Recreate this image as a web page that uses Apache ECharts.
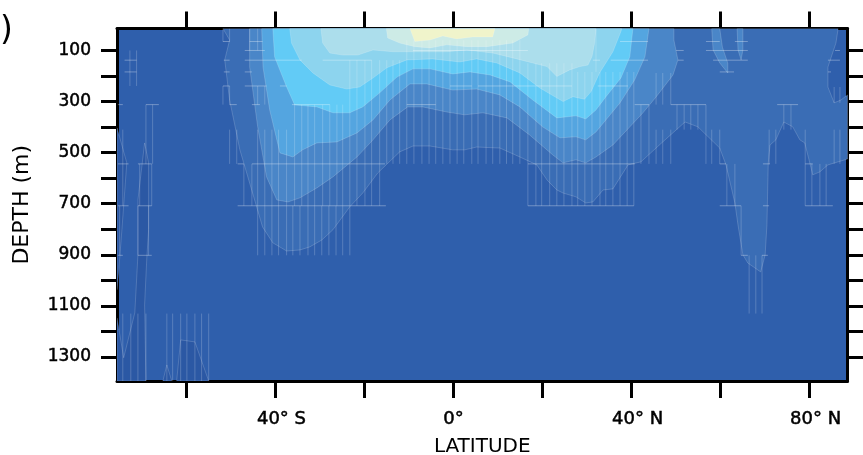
<!DOCTYPE html>
<html><head><meta charset="utf-8">
<style>html,body{margin:0;padding:0;background:#fff}#c{width:863px;height:455px}</style>
<script src="https://cdn.jsdelivr.net/npm/echarts@6/dist/echarts.min.js"></script>
</head><body><div id="c"></div>
<script>
const latMin=-75.6, latMax=88.5, depthMin=14, depthMax=1394;
const latTicks=[-60,-40,-20,0,20,40,60,80];
const latLabels={'-40':'40° S','0':'0°','40':'40° N','80':'80° N'};
const depthTicks=[100,200,300,400,500,600,700,800,900,1000,1100,1200,1300];
const depthLabels=[100,300,500,700,900,1100,1300];

const baseColor='#2F5FAC';
const colorDeep='#2B58A4', color2='#3A6DB5', color3='#4A86C8', color4='#54A5E0', color5='#62CBF6', color6='#8DD4EE', color7='#ACDEEC', color8='#CDEBE6', color9='#F0F4CB';

// filled contours: [latitude, depth]
const deepBand=[[-69.4,462],[-68.5,540],[-68.5,802],[-68.9,912],[-69.4,1096],[-69.1,1394],[-75.6,1394],[-75.6,1147],[-74.1,1303],[-71.6,1127],[-70.9,900],[-70.9,685]];
const deepEdge=[[-75.6,403],[-73.4,540],[-74.5,802],[-75.2,960],[-75.6,1037]];
const deepPocketA=[[-65.3,1394],[-64.4,1331],[-63.3,1394]];
const deepPocketB=[[-62.2,1394],[-61.3,1233],[-58.1,1241],[-55,1394]];
const level2=[[-51.8,14],[-50.3,59],[-51.4,137],[-50.3,294],[-48,489],[-42.9,791],[-40.6,853],[-37.5,885],[-34.5,881],[-32.3,869],[-29.6,842],[-27.1,802],[-23.3,712],[-20.4,658],[-17,579],[-12.1,497],[-9.1,474],[-5.3,474],[-.2,489],[2.5,489],[5.2,478],[10.4,482],[14.9,517],[18.7,548],[21,607],[23.2,646],[24.6,658],[27.5,673],[29.7,697],[31.3,693],[33.6,646],[35.8,642],[39.2,548],[42.1,536],[47,458],[52,380],[54.9,399],[59.8,482],[61.2,548],[63.2,697],[63.9,783],[65,900],[66.1,932],[69,967],[70,900],[70.4,783],[70.7,540],[71.1,470],[72.4,450],[74.2,380],[76.2,399],[77.8,450],[78.9,462],[80.7,587],[82.3,575],[84.1,548],[88.5,525],[88.5,274],[87,294],[85.5,305],[84.1,243],[84.1,165],[85.9,71],[86.4,14]];
const level3=[[-45.8,14],[-45.8,165],[-44,399],[-42,595],[-39.7,685],[-37.2,693],[-34.5,677],[-30.7,638],[-27.1,595],[-21.7,517],[-18.1,450],[-14.3,372],[-10.3,321],[-6.9,321],[-1.5,341],[2.5,352],[6.6,344],[12,364],[17.1,431],[22.3,509],[24.6,540],[27.5,528],[29.7,540],[32,517],[35.8,470],[42.5,345],[45.5,282],[49.3,196],[50.4,137],[49.5,59],[49.5,14]];
const level3PatchA=[[58,14],[58.3,98],[59.8,149],[61.6,188],[61.6,149],[60.4,87],[59.8,14]];
const level3PatchB=[[63.7,14],[63.9,98],[64.6,137],[65,98],[65,14]];
const level4=[[-43.1,14],[-42.8,165],[-41.3,333],[-39,501],[-36.1,517],[-33.9,489],[-30.7,462],[-26.2,458],[-21.7,423],[-18.1,372],[-14.3,294],[-9.8,231],[-6,231],[-.2,255],[5.2,251],[10.4,274],[14.9,321],[20,399],[23.9,442],[27.5,438],[29.7,450],[32,419],[37.4,305],[40.7,215],[43,125],[43.9,14]];
const level5=[[-40.6,14],[-40.2,125],[-37.5,243],[-35.7,313],[-30.7,321],[-27.1,344],[-23.3,344],[-20.4,321],[-16.6,266],[-12.7,204],[-9.1,172],[-5.3,172],[-.2,192],[3.7,184],[8.2,196],[12.7,223],[17.8,294],[23.2,364],[27.5,356],[29.7,368],[32,333],[34.2,282],[37.6,208],[39.6,125],[40.3,14]];
const level6=[[-36.8,14],[-36.4,71],[-34.5,137],[-31.6,188],[-27.8,235],[-24,251],[-21.1,243],[-18.1,208],[-15,168],[-10.5,137],[-4.7,133],[1.4,145],[5.2,133],[9.7,149],[14.9,188],[19.4,247],[24.6,300],[26.8,281],[29.4,291],[30.9,261],[32.8,188],[35.8,105],[37.6,26],[37.8,14]];
const level7=[[-29.8,14],[-29.4,71],[-27.8,110],[-24.9,118],[-21.5,118],[-18.1,98],[-13.6,105],[-7.6,105],[-1.5,105],[3,98],[8.8,110],[13.3,129],[17.8,149],[21,163],[23.2,202],[26.1,176],[28.4,163],[30.2,157],[31.1,124],[31.7,71],[32,14]];
const level8=[[-15.1,14],[-14.8,51],[-12.1,71],[-8.7,85],[-5.3,90],[-1.5,78],[3,85],[7.5,85],[13.3,71],[16.7,39],[16.9,14]];
const level9=[[-9.8,14],[-8.7,65],[-5.3,59],[-2.4,43],[.7,55],[4.3,47],[8.8,47],[9.3,14]];

const contourLayers=[
 [deepBand,colorDeep],[deepEdge,colorDeep],[deepPocketA,colorDeep],[deepPocketB,colorDeep],
 [level2,color2],[level3,color3],[level3PatchA,color3],[level3PatchB,color3],
 [level4,color4],[level5,color5],[level6,color6],[level7,color7],[level8,color8],[level9,color9]];

// significance hatching, horizontal: [depth, lat from, lat to]
const hatchH=[
 [544,-75.4,-73],[544,-70.9,-67.8],[544,-48.5,-47.1],[544,-45.3,-15.4],[544,16.7,40.7],[544,59.8,61.2],[544,69.5,71.1],[544,79,80.7],
 [708,-75.4,-73],[708,-70.9,-67.8],[708,-48.5,-15.2],[708,16.7,40.5],[708,59.8,64.6],[708,69.5,70.9],[708,79,85.2],
 [902,-75.4,-74.3],[902,-70.9,-67.8],[902,64.6,66.1],[902,69.3,70.6],
 [312,-75.4,-74.3],[312,-69.1,-66.2],[312,-50.3,-48.7],[312,-45.3,-43.5],[312,-36.3,-27.8],[312,-10.5,-4],[312,40.7,43.9],[312,48.8,56.7],[312,72.7,77.4],
 [239,-51.8,-50.3],[239,-46.9,-42],[239,-39,-37.5],[239,-.8,4.1],[239,5.5,26.6],[239,32.4,39.2],
 [184,-73.9,-71.2],[184,-51.6,-50.3],[184,-46.9,-45.3],[184,59.8,63],[184,84.1,84.8],
 [138,-73.9,-71.2],[138,-51.6,-50.3],[138,-46.9,-34.1],[138,-29.4,-18.4],[138,31.3,32.9],[138,35.3,43.7],[138,50.4,51.7],[138,58.3,66.1],[138,84.1,86.8],
 [100,-46.9,-42.4],[100,-9.1,16.7],[100,50,51.7],[100,56.7,66.1],[100,85.7,86.8],
 [65,-51.8,-50.3],[65,-45.8,-42.9],[65,37.4,43.7],[65,56.7,59.8],[65,63.2,66.1]];
// significance hatching, vertical: [depth from, depth to, latitudes]
const hatchV=[
 [312,708,[-35.7,-34.1,-32.7,-31.2,-29.4,-27.8,-26.2,-24.9]],
 [708,902,[-44,-42.4,-40.8,-39.3,-37.5,-36.1,-34.5,-32.7,-31.2,-29.6,-28,-26.4,-24.9,-23.3]],
 [410,708,[-44,-42.4,-40.8,-39.3,-37.5]],
 [138,708,[-23.3,-21.7,-19.9,-18.4,-16.6]],
 [138,544,[-15,-13.6,-12.1]],
 [60,544,[-10.5,-8.9,-7.1,-5.5,-4,-2.4,-.8,.8,2.3,4.1,5.5,7.3,8.8,10.4,11.9,13.3,14.9]],
 [150,708,[16.7,18.5,19.8,21.6,23.2,24.8,26.6]],
 [184,708,[27.9,29.5,31.1,32.9,34.2,35.8,37.4,39,40.5]],
 [14,184,[32]],
 [312,544,[42.1,43.9]],
 [410,544,[45.5,47,48.8]],
 [188,312,[45.5,47,48.8]],
 [312,410,[50.2,51.8,53.3,54.9,56.7]],
 [410,544,[56.7,58,59.8]],
 [544,708,[61.4,63.2]],
 [708,902,[64.6]],
 [902,1130,[66.4,67.9,69.3]],
 [410,544,[70.9,72.4]],
 [312,410,[74.2,75.8]],
 [544,708,[79,80.5,82.3,83.7]],
 [410,544,[79,85.5,86.8]],
 [243,305,[85.5,86.8]],
 [410,708,[-74.3]],
 [708,902,[-75]],
 [100,239,[-72.7,-71.2]],
 [312,544,[-69.1,-67.6]],
 [544,708,[-70.5,-67.8]],
 [708,902,[-70.9,-68.5]],
 [1130,1394,[-74.3,-72.5,-70.9,-69.1]],
 [1130,1394,[-64.4,-63.1,-61.3,-59.9,-58.1,-56.6,-55]],
 [410,544,[-50.3,-48.7]],
 [544,708,[-47.1,-45.3]],
 [14,65,[-51.8,-50.3]],
 [239,312,[-51.8,-50.3,-44,-42.4]],
 [14,100,[-45.8,-44]]];

const segments=[];
hatchH.forEach(h=>segments.push([h[1],h[0],h[2],h[0],1]));
hatchV.forEach(v=>v[2].forEach(l=>segments.push([l,v[0],l,v[1],0])));

const font='"DejaVu Sans"';
const contourSeries=contourLayers.map(layer=>({
  type:'custom',coordinateSystem:'cartesian2d',silent:true,animation:false,clip:true,
  data:[[0,0]],encode:{x:0,y:1},
  renderItem:(p,api)=>({type:'polygon',shape:{points:layer[0].map(q=>api.coord(q))},
    style:{fill:layer[1],stroke:'rgba(255,255,255,0.25)',lineWidth:0.7}})
}));
const hatchSeries={
  type:'custom',coordinateSystem:'cartesian2d',silent:true,animation:false,clip:true,
  data:segments,encode:{x:[0,2],y:[1,3]},z:5,
  renderItem:(p,api)=>{
    const a=api.coord([api.value(0),api.value(1)]),b=api.coord([api.value(2),api.value(3)]);
    const horiz=api.value(4)===1;
    return {type:'line',shape:{x1:a[0],y1:a[1],x2:b[0],y2:b[1]},
      style:{stroke:horiz?'rgba(255,255,255,0.32)':'rgba(255,255,255,0.2)',lineWidth:1}};
  }
};
const lineBlack={show:true,lineStyle:{color:'#000',width:3}};
const bold={textBorderColor:'#000',textBorderWidth:0.5};
const xCommon={type:'value',min:latMin,max:latMax,splitLine:{show:false},axisLine:{...lineBlack,onZero:false},
  axisTick:{show:true,length:17,lineStyle:{color:'#000',width:3},customValues:latTicks}};
const yCommon={type:'value',min:depthMin,max:depthMax,inverse:true,splitLine:{show:false},axisLine:{...lineBlack,onZero:false},
  axisTick:{show:true,length:16,lineStyle:{color:'#000',width:3},customValues:depthTicks}};
const chart=echarts.init(document.getElementById('c'),null,{renderer:'canvas'});
chart.setOption({
  animation:false,backgroundColor:'#fff',
  grid:{left:117,right:15.5,top:28.5,bottom:74,show:true,backgroundColor:baseColor,borderWidth:0,containLabel:false,outerBoundsMode:'none'},
  graphic:[{type:'text',left:0,top:15,style:{text:')',font:'33px '+font,fill:'#000'}}],
  xAxis:[
   {...xCommon,position:'bottom',name:'LATITUDE',nameLocation:'middle',nameGap:56,
    nameTextStyle:{fontFamily:font,fontSize:20,color:'#000'},
    axisLabel:{show:true,margin:29,customValues:Object.keys(latLabels).map(Number),fontFamily:font,fontSize:18,color:'#000',...bold,
      formatter:v=>{const t=latLabels[String(v)];return v===0?t:'{s|'+t+'}';},
      rich:{s:{fontFamily:font,fontSize:18,color:'#000',padding:[0,0,0,12],...bold}}}},
   {...xCommon,position:'top',axisLabel:{show:false}}
  ],
  yAxis:[
   {...yCommon,position:'left',name:'DEPTH (m)',nameLocation:'middle',nameGap:84,nameRotate:90,
    nameTextStyle:{fontFamily:font,fontSize:22,color:'#000'},
    axisLabel:{show:true,margin:26,padding:[4,0,0,0],customValues:depthLabels,fontFamily:font,fontSize:17,color:'#000',...bold,formatter:v=>String(v)}},
   {...yCommon,position:'right',axisLabel:{show:false}}
  ],
  series:[...contourSeries,hatchSeries]
});
</script></body></html>
